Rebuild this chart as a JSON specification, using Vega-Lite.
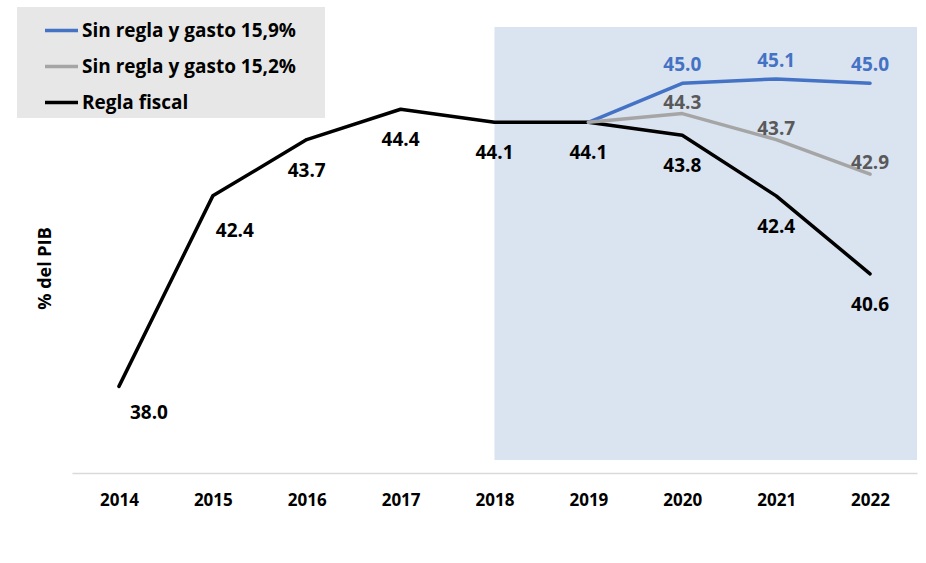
{
  "$schema": "https://vega.github.io/schema/vega-lite/v6.json",
  "width": 845,
  "height": 446,
  "autosize": {"type": "none"},
  "padding": {"left": 72, "top": 27, "right": 9, "bottom": 90},
  "background": "white",
  "config": {"view": {"stroke": null}, "font": "Open Sans"},
  "datasets": {
    "series": [
      {"year": 2014, "value": 38.0, "serie": "Regla fiscal"},
      {"year": 2015, "value": 42.4, "serie": "Regla fiscal"},
      {"year": 2016, "value": 43.7, "serie": "Regla fiscal"},
      {"year": 2017, "value": 44.4, "serie": "Regla fiscal"},
      {"year": 2018, "value": 44.1, "serie": "Regla fiscal"},
      {"year": 2019, "value": 44.1, "serie": "Regla fiscal"},
      {"year": 2020, "value": 43.8, "serie": "Regla fiscal"},
      {"year": 2021, "value": 42.4, "serie": "Regla fiscal"},
      {"year": 2022, "value": 40.6, "serie": "Regla fiscal"},
      {"year": 2019, "value": 44.1, "serie": "Sin regla y gasto 15,9%"},
      {"year": 2020, "value": 45.0, "serie": "Sin regla y gasto 15,9%"},
      {"year": 2021, "value": 45.1, "serie": "Sin regla y gasto 15,9%"},
      {"year": 2022, "value": 45.0, "serie": "Sin regla y gasto 15,9%"},
      {"year": 2019, "value": 44.1, "serie": "Sin regla y gasto 15,2%"},
      {"year": 2020, "value": 44.3, "serie": "Sin regla y gasto 15,2%"},
      {"year": 2021, "value": 43.7, "serie": "Sin regla y gasto 15,2%"},
      {"year": 2022, "value": 42.9, "serie": "Sin regla y gasto 15,2%"}
    ],
    "shade": [{"year": 2018, "year2": 2022.5, "value": 36.3, "value2": 46.3}]
  },
  "encoding": {
    "x": {
      "field": "year", "type": "quantitative",
      "scale": {"domain": [2013.5, 2022.5], "nice": false, "zero": false},
      "axis": {
        "values": [2014, 2015, 2016, 2017, 2018, 2019, 2020, 2021, 2022],
        "format": "d", "title": null, "grid": false, "ticks": false,
        "domain": true, "domainColor": "#d9d9d9", "domainWidth": 1.5,
        "labelFont": "Open Sans", "labelFontWeight": "bold", "labelFontSize": 17,
        "labelColor": "#000000", "labelPadding": 19
      }
    },
    "y": {
      "field": "value", "type": "quantitative",
      "scale": {"domain": [36, 46.3], "nice": false, "zero": false},
      "axis": {
        "title": "% del PIB", "titleFont": "Open Sans", "titleFontSize": 18, "titleFontWeight": "bold",
        "titleColor": "#000000", "labels": false, "ticks": false, "domain": false, "grid": false,
        "titleX": -27, "titleY": 241, "titleAngle": -90, "titleAlign": "center", "titleBaseline": "middle"
      }
    }
  },
  "layer": [
    {
      "data": {"name": "shade"},
      "mark": {"type": "rect", "color": "#dae3f0"},
      "encoding": {
        "x2": {"field": "year2"},
        "y2": {"field": "value2"}
      }
    },
    {
      "data": {"name": "series"},
      "mark": {"type": "line", "strokeWidth": 3.5, "strokeCap": "round", "strokeJoin": "round"},
      "encoding": {
        "color": {
          "field": "serie", "type": "nominal",
          "scale": {
            "domain": ["Sin regla y gasto 15,9%", "Sin regla y gasto 15,2%", "Regla fiscal"],
            "range": ["#4472c4", "#a5a5a5", "#000000"]
          },
          "legend": {
            "orient": "none", "legendX": -55, "legendY": -20,
            "title": "\u00a0", "titleOrient": "right", "titlePadding": 24, "titleFontSize": 19,
            "fillColor": "#e7e7e7", "padding": 5, "symbolType": "stroke", "symbolSize": 1089,
            "symbolStrokeWidth": 3.5, "symbolOffset": 21, "labelFontSize": 19, "labelFont": "Open Sans",
            "labelFontWeight": "bold", "labelColor": "#000000", "rowPadding": 7, "labelOffset": 2,
            "labelLimit": 400
          }
        },
        "order": {"field": "year", "type": "quantitative"}
      }
    },
    {
      "data": {"name": "series"},
      "transform": [{"filter": "datum.serie == 'Regla fiscal' && datum.year == 2014"}],
      "mark": {"type": "text", "font": "Open Sans", "fontWeight": "bold", "fontSize": 19, "color": "#000000", "dx": 30, "dy": 27, "baseline": "middle"},
      "encoding": {"text": {"field": "value", "type": "quantitative", "format": ".1f"}}
    },
    {
      "data": {"name": "series"},
      "transform": [{"filter": "datum.serie == 'Regla fiscal' && datum.year == 2015"}],
      "mark": {"type": "text", "font": "Open Sans", "fontWeight": "bold", "fontSize": 19, "color": "#000000", "dx": 22, "dy": 35, "baseline": "middle"},
      "encoding": {"text": {"field": "value", "type": "quantitative", "format": ".1f"}}
    },
    {
      "data": {"name": "series"},
      "transform": [{"filter": "datum.serie == 'Regla fiscal' && datum.year >= 2016"}],
      "mark": {"type": "text", "font": "Open Sans", "fontWeight": "bold", "fontSize": 19, "color": "#000000", "dy": 31, "baseline": "middle"},
      "encoding": {"text": {"field": "value", "type": "quantitative", "format": ".1f"}}
    },
    {
      "data": {"name": "series"},
      "transform": [{"filter": "datum.serie == 'Sin regla y gasto 15,9%' && datum.year >= 2020"}],
      "mark": {"type": "text", "font": "Open Sans", "fontWeight": "bold", "fontSize": 19, "color": "#4472c4", "dy": -18, "baseline": "middle"},
      "encoding": {"text": {"field": "value", "type": "quantitative", "format": ".1f"}}
    },
    {
      "data": {"name": "series"},
      "transform": [{"filter": "datum.serie == 'Sin regla y gasto 15,2%' && datum.year >= 2020"}],
      "mark": {"type": "text", "font": "Open Sans", "fontWeight": "bold", "fontSize": 19, "color": "#595959", "dy": -11, "baseline": "middle"},
      "encoding": {"text": {"field": "value", "type": "quantitative", "format": ".1f"}}
    }
  ]
}
